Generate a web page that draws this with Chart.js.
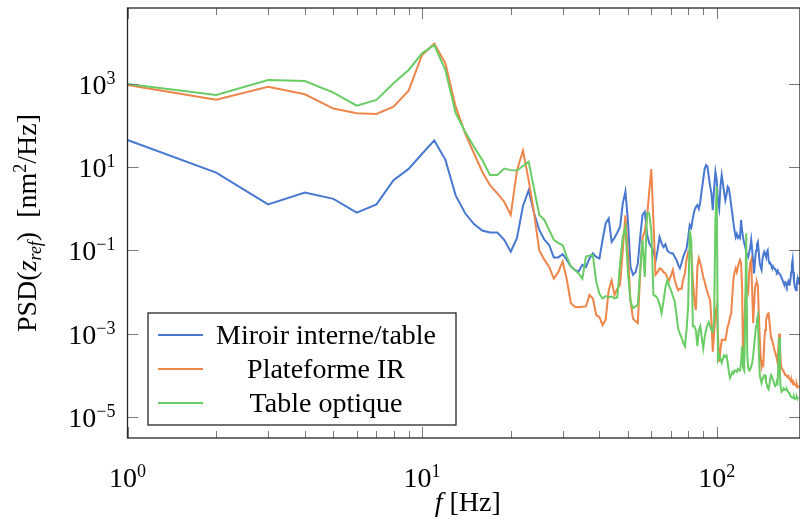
<!DOCTYPE html>
<html>
<head>
<meta charset="utf-8">
<script src="https://cdn.jsdelivr.net/npm/chart.js@4.4.1/dist/chart.umd.min.js"></script>
<style>
  html, body { margin: 0; padding: 0; background: #fff; }
  #wrap { width: 800px; height: 521px; position: relative; }
</style>
</head>
<body>
<div id="wrap"><canvas id="psdChart"></canvas></div>
<script>
// fréquences (Hz), résolution 1 Hz
const freqs = [
  1, 2, 3, 4, 5, 6, 7, 8, 9, 10,
  11, 12, 13, 14, 15, 16, 17, 18, 19, 20,
  21, 22, 23, 24, 25, 26, 27, 28, 29, 30,
  31, 32, 33, 34, 35, 36, 37, 38, 39, 40,
  41, 42, 43, 44, 45, 46, 47, 48, 49, 50,
  51, 52, 53, 54, 55, 56, 57, 58, 59, 60,
  61, 62, 63, 64, 65, 66, 67, 68, 69, 70,
  71, 72, 73, 74, 75, 76, 77, 78, 79, 80,
  81, 82, 83, 84, 85, 86, 87, 88, 89, 90,
  91, 92, 93, 94, 95, 96, 97, 98, 99, 100,
  101, 102, 103, 104, 105, 106, 107, 108, 109, 110,
  111, 112, 113, 114, 115, 116, 117, 118, 119, 120,
  121, 122, 123, 124, 125, 126, 127, 128, 129, 130,
  131, 132, 133, 134, 135, 136, 137, 138, 139, 140,
  141, 142, 143, 144, 145, 146, 147, 148, 149, 150,
  151, 152, 153, 154, 155, 156, 157, 158, 159, 160,
  161, 162, 163, 164, 165, 166, 167, 168, 169, 170,
  171, 172, 173, 174, 175, 176, 177, 178, 179, 180,
  181, 182, 183, 184, 185, 186, 187, 188, 189, 190
];

// PSD miroir interne / table (nm²/Hz)
const psdMiroir = [
  45, 7.4, 1.28, 2.45, 1.73, 0.81, 1.28, 4.9, 9.1, 21,
  44, 15, 2.1, 0.78, 0.43, 0.30, 0.27, 0.27, 0.18, 0.093,
  0.2, 1.17, 2.8, 0.78, 0.31, 0.18, 0.135, 0.068, 0.068, 0.081,
  0.059, 0.041, 0.034, 0.031, 0.045, 0.04, 0.064, 0.085, 0.07, 0.064,
  0.18, 0.45, 0.59, 0.16, 0.2, 0.27, 0.37, 1.35, 2.6, 0.5,
  0.04, 0.026, 0.03, 0.049, 0.21, 0.71, 0.85, 0.25, 0.15, 0.12,
  0.1, 0.054, 0.1, 0.21, 0.15, 0.12, 0.14, 0.1, 0.09, 0.085,
  0.085, 0.07, 0.06, 0.045, 0.037, 0.05, 0.07, 0.09, 0.11, 0.2,
  0.41, 0.35, 0.6, 0.9, 1.1, 1.23, 1.0, 1.5, 2.8, 5,
  9, 11.2, 10.5, 6, 3.5, 2.35, 0.93, 3, 7.8, 5,
  1.5, 1.0, 3.5, 6.5, 4, 2.5, 1.6, 2.2, 3.4, 3.1,
  2, 1.2, 0.78, 0.45, 0.3, 0.21, 0.25, 0.2, 0.22, 0.2,
  0.54, 0.3, 0.2, 0.15, 0.12, 0.09, 0.08, 0.07, 0.09, 0.12,
  0.18, 0.1, 0.05, 0.028, 0.06, 0.1, 0.14, 0.16, 0.09, 0.05,
  0.04, 0.034, 0.06, 0.08, 0.093, 0.08, 0.07, 0.09, 0.1, 0.06,
  0.049, 0.05, 0.045, 0.04, 0.042, 0.038, 0.037, 0.035, 0.032, 0.03,
  0.033, 0.03, 0.028, 0.028, 0.025, 0.022, 0.02, 0.018, 0.016, 0.015,
  0.017, 0.016, 0.014, 0.016, 0.018, 0.015, 0.016, 0.02, 0.03, 0.045,
  0.059, 0.03, 0.018, 0.014, 0.012, 0.011, 0.015, 0.02, 0.016, 0.023
];

// PSD plateforme IR
const psdPlateforme = [
  950, 420, 860, 565, 257, 198, 190, 285, 690, 5000,
  9300, 3150, 285, 65, 21.6, 7.8, 3.7, 2.35, 1.48, 0.71,
  8.5, 25, 4.9, 0.78, 0.1, 0.06, 0.04, 0.021, 0.03, 0.054,
  0.02, 0.0054, 0.0044, 0.0043, 0.0044, 0.0045, 0.0085, 0.007, 0.0028, 0.0025,
  0.0016, 0.0022, 0.011, 0.019, 0.0085, 0.012, 0.015, 0.1, 0.7, 0.08,
  0.006, 0.0023, 0.002, 0.0018, 0.028, 0.2, 0.29, 0.6, 2.5, 9,
  0.5, 0.026, 0.03, 0.037, 0.035, 0.03, 0.028, 0.022, 0.019, 0.025,
  0.034, 0.02, 0.014, 0.011, 0.012, 0.012, 0.02, 0.028, 0.06, 0.093,
  0.09, 0.085, 0.02, 0.0064, 0.0037, 0.04, 0.065, 0.05, 0.035, 0.023,
  0.018, 0.013, 0.01, 0.0078, 0.0064, 0.002, 0.00037, 0.001, 0.003, 0.0044,
  0.001, 0.00021, 0.0004, 0.00072, 0.0007, 0.00072, 0.0007, 0.001, 0.0015, 0.0018,
  0.0025, 0.003, 0.008, 0.02, 0.03, 0.037, 0.03, 0.04, 0.05, 0.059,
  0.05, 0.013, 0.00016, 0.001, 0.006, 0.015, 0.012, 0.01, 0.03, 0.05,
  0.059, 0.01, 0.0018, 0.005, 0.013, 0.016, 0.017, 0.014, 0.003, 0.0008,
  0.0003, 0.00016, 0.0002, 0.00018, 0.0006, 0.0012, 0.002, 0.0025, 0.003, 0.0031,
  0.002, 0.0012, 0.0008, 0.0007, 0.0006, 0.0005, 0.0004, 0.00035, 0.0003, 0.00025,
  0.0002, 0.0005, 0.001, 0.0005, 0.0002, 0.00015, 0.00014, 0.00013, 0.00012, 0.00011,
  0.0001, 0.0001, 0.0001, 0.00009, 0.000095, 0.000085, 0.00008, 0.00008, 0.00007, 0.000075,
  0.000065, 0.00006, 0.000065, 0.00006, 0.000059, 0.000055, 0.00006, 0.000052, 0.000055, 0.000054
];

// PSD table optique
const psdTable = [
  1000, 545, 1250, 1180, 620, 300, 413, 1040, 2170, 5460,
  8650, 2170, 200, 71, 31, 15, 6.5, 6.5, 9.3, 8.5,
  8.3, 10.7, 13.5, 3, 0.71, 0.54, 0.31, 0.18, 0.15, 0.135,
  0.07, 0.041, 0.034, 0.028, 0.021, 0.071, 0.075, 0.077, 0.018, 0.009,
  0.007, 0.008, 0.0075, 0.0078, 0.007, 0.0075, 0.049, 0.21, 0.37, 0.028,
  0.0059, 0.0041, 0.0045, 0.005, 0.034, 0.18, 0.023, 0.78, 0.78, 0.3,
  0.0085, 0.008, 0.007, 0.005, 0.0031, 0.006, 0.013, 0.019, 0.014, 0.011,
  0.008, 0.006, 0.003, 0.0013, 0.001, 0.0008, 0.0006, 0.0005, 0.0012, 0.0044,
  0.3, 0.18, 0.0015, 0.0015, 0.0012, 0.0005, 0.0012, 0.0015, 0.0008, 0.00044,
  0.0008, 0.0012, 0.0016, 0.0019, 0.0015, 0.0012, 0.0011, 0.002, 0.5, 3.4,
  0.00024, 0.0003, 0.00025, 0.0002, 0.00025, 0.0003, 0.00028, 0.0003, 0.0002, 0.00012,
  0.000086, 0.0001, 0.00012, 0.00011, 0.00013, 0.00013, 0.00012, 0.00014, 0.00013, 0.00013,
  0.0002, 0.0005, 0.00015, 0.00013, 0.003, 0.26, 0.0003, 0.00015, 0.00013, 0.00014,
  0.00016, 0.0002, 0.0003, 0.0005, 0.0009, 0.0015, 0.0022, 0.0027, 0.0004, 0.0001,
  0.00008, 0.000065, 0.00008, 0.00009, 0.0001, 0.0001, 0.00007, 0.00006, 0.00005, 0.000046,
  0.00006, 0.00008, 0.0001, 0.00009, 0.00008, 0.00007, 0.00006, 0.000055, 0.00006, 0.00007,
  0.000065, 0.0002, 0.0008, 0.0001, 0.00005, 0.00004, 0.000042, 0.000045, 0.000048, 0.000046,
  0.000044, 0.000045, 0.000046, 0.000042, 0.00004, 0.000038, 0.000035, 0.000032, 0.00003, 0.00003,
  0.000029, 0.000028, 0.00003, 0.000027, 0.000028, 0.000028, 0.00003, 0.000027, 0.00003, 0.00003
];

const seriesLabels = ['Miroir interne/table', 'Plateforme IR', 'Table optique'];
const seriesColors = ['#4878d0', '#ee854a', '#6acc64'];

// graduations
const xMajorTicks = [1, 10, 100];
const xMinorTicks = [2, 3, 4, 5, 6, 7, 8, 9, 20, 30, 40, 50, 60, 70, 80, 90];
const yTicks = [1e-5, 1e-3, 1e-1, 10, 1000];

const SERIF = '"Liberation Serif", "DejaVu Serif", serif';
const FS = 28;   // taille texte principal
const FSS = 18;  // taille exposant / indice

function pts(ys) {
  return freqs.map((f, i) => ({ x: f, y: ys[i] }));
}

// dessine une suite de morceaux de texte (normal / italique / exposant)
function drawRuns(ctx, runs, x, y, align) {
  let total = 0;
  runs.forEach(r => {
    ctx.font = (r.italic ? 'italic ' : '') + (r.size || FS) + 'px ' + SERIF;
    r.w = ctx.measureText(r.text).width;
    total += r.w;
  });
  let cx = x;
  if (align === 'center') cx = x - total / 2;
  if (align === 'right') cx = x - total;
  runs.forEach(r => {
    ctx.font = (r.italic ? 'italic ' : '') + (r.size || FS) + 'px ' + SERIF;
    ctx.fillText(r.text, cx, y + (r.dy || 0));
    cx += r.w;
  });
}

function powRuns(exp) {
  const e = exp < 0 ? '\u2212' + (-exp) : String(exp);
  return [{ text: '10' }, { text: e, size: FSS, dy: -10 }];
}

const decorPlugin = {
  id: 'decor',
  afterDraw(chart) {
    const ctx = chart.ctx;
    const a = chart.chartArea;
    const xs = chart.scales.x;
    const ys = chart.scales.y;
    ctx.save();

    // graduations vers l'intérieur
    ctx.strokeStyle = '#7a7a7a';
    ctx.lineWidth = 1;
    ctx.beginPath();
    xs.ticks.forEach(t => {
      const px = Math.round(xs.getPixelForValue(t.value)) + 0.5;
      const len = t.major ? 11 : 7;
      ctx.moveTo(px, a.bottom); ctx.lineTo(px, a.bottom - len);
      ctx.moveTo(px, a.top); ctx.lineTo(px, a.top + len);
    });
    ys.ticks.forEach(t => {
      const py = Math.round(ys.getPixelForValue(t.value)) + 0.5;
      ctx.moveTo(a.left, py); ctx.lineTo(a.left + 11, py);
      ctx.moveTo(a.right, py); ctx.lineTo(a.right - 11, py);
    });
    ctx.stroke();

    // cadre
    ctx.strokeStyle = '#262626';
    ctx.lineWidth = 1.3;
    ctx.strokeRect(a.left, a.top, a.right - a.left, a.bottom - a.top);

    // étiquettes des axes
    ctx.fillStyle = '#000';
    ctx.textBaseline = 'alphabetic';
    ys.ticks.forEach(t => {
      const py = ys.getPixelForValue(t.value);
      drawRuns(ctx, powRuns(Math.round(Math.log10(t.value))), a.left - 12, py + 10, 'right');
    });
    xs.ticks.filter(t => t.major).forEach(t => {
      const px = xs.getPixelForValue(t.value);
      drawRuns(ctx, powRuns(Math.round(Math.log10(t.value))), px, 487, 'center');
    });

    // titre x
    drawRuns(ctx, [{ text: 'f', italic: true }, { text: ' [Hz]' }], (a.left + a.right) / 2 + 4, 511, 'center');

    // titre y (vertical)
    ctx.save();
    ctx.translate(36, (a.top + a.bottom) / 2);
    ctx.rotate(-Math.PI / 2);
    drawRuns(ctx, [
      { text: 'PSD(' },
      { text: 'z', italic: true },
      { text: 'ref', italic: true, size: FSS, dy: 5 },
      { text: ')  [nm' },
      { text: '2', size: FSS, dy: -10 },
      { text: '/Hz]' }
    ], 0, 0, 'center');
    ctx.restore();

    // légende
    const lx = 148, ly = 313, lw = 308, lh = 112;
    ctx.fillStyle = '#fff';
    ctx.fillRect(lx, ly, lw, lh);
    ctx.strokeStyle = '#262626';
    ctx.lineWidth = 1.3;
    ctx.strokeRect(lx, ly, lw, lh);
    chart.data.datasets.forEach((ds, i) => {
      const ry = 335 + i * 34;
      ctx.strokeStyle = ds.borderColor;
      ctx.lineWidth = 2;
      ctx.beginPath();
      ctx.moveTo(158, ry); ctx.lineTo(203, ry);
      ctx.stroke();
      ctx.fillStyle = '#000';
      drawRuns(ctx, [{ text: ds.label }], 326, ry + 9, 'center');
    });

    ctx.restore();
  }
};

new Chart(document.getElementById('psdChart'), {
  type: 'line',
  data: {
    datasets: [
      { label: seriesLabels[0], data: pts(psdMiroir), borderColor: seriesColors[0], order: 3 },
      { label: seriesLabels[1], data: pts(psdPlateforme), borderColor: seriesColors[1], order: 2 },
      { label: seriesLabels[2], data: pts(psdTable), borderColor: seriesColors[2], order: 1 }
    ]
  },
  options: {
    responsive: true,
    maintainAspectRatio: false,
    animation: false,
    layout: { padding: { top: 8, right: 0, left: 0, bottom: 0 } },
    elements: {
      line: { borderWidth: 2, tension: 0, fill: false },
      point: { radius: 0, hoverRadius: 0 }
    },
    scales: {
      x: {
        type: 'logarithmic',
        min: 1,
        max: 191.8,
        grid: { display: false },
        border: { display: false },
        ticks: { display: false },
        afterBuildTicks: s => {
          s.ticks = xMajorTicks.map(v => ({ value: v, major: true }))
            .concat(xMinorTicks.map(v => ({ value: v, major: false })));
        },
        afterFit: s => { s.height = 83; }
      },
      y: {
        type: 'logarithmic',
        min: 3.1e-6,
        max: 6.7e4,
        grid: { display: false },
        border: { display: false },
        ticks: { display: false },
        afterBuildTicks: s => {
          s.ticks = yTicks.map(v => ({ value: v, major: true }));
        },
        afterFit: s => { s.width = 127.5; }
      }
    },
    plugins: {
      legend: { display: false },
      tooltip: { enabled: false }
    }
  },
  plugins: [decorPlugin]
});
</script>
</body>
</html>
